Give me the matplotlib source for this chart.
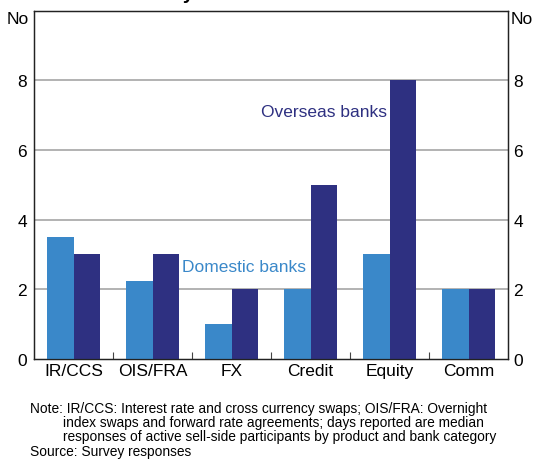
import matplotlib
matplotlib.use("Agg")
import matplotlib.pyplot as plt
import numpy as np

plt.rcParams['font.family'] = ['Liberation Sans', 'DejaVu Sans']

categories = ["IR/CCS", "OIS/FRA", "FX", "Credit", "Equity", "Comm"]
domestic = [3.5, 2.25, 1, 2, 3, 2]
overseas = [3, 3, 2, 5, 8, 2]
yticks = [0, 2, 4, 6, 8]

c_dom = "#3A88C9"
c_ovs = "#2E3081"

fig = plt.figure(figsize=(5.34, 4.6), dpi=100)
L, R, T, B = 34, 508, 11.5, 360
ax = fig.add_axes([L/534, 1-B/460, (R-L)/534, (B-T)/460])

x = np.arange(len(categories))
w = 0.34
ax.bar(x - w/2, domestic, width=w, color=c_dom, zorder=3)
ax.bar(x + w/2, overseas, width=w, color=c_ovs, zorder=3)

ax.set_xlim(-0.5, len(categories) - 0.5)
ax.set_ylim(0, 10)
ax.set_yticks(yticks)
for y in yticks[1:]:
    ax.axhline(y, color="#A6A6A6", lw=1.2, zorder=1)

ax.set_xticks(x)
ax.set_xticklabels(categories, fontsize=12.5)
ax.tick_params(axis='x', length=0, pad=3)
ax.set_xticks(np.arange(0.5, len(categories) - 0.5, 1), minor=True)
ax.tick_params(axis='x', which='minor', direction='in', length=5, width=0.8, color='#444444')
ax.tick_params(axis='y', length=0, labelsize=12.5, pad=5)

ax2 = ax.twinx()
ax2.set_ylim(0, 10)
ax2.set_yticks(yticks)
ax2.tick_params(axis='y', length=0, labelsize=12.5, pad=4)

for a in (ax, ax2):
    for s in a.spines.values():
        s.set_color("#222222")
        s.set_linewidth(0.9)

fig.text(7/534, 1-20/460, "No", fontsize=12.5, va='center', ha='left')
fig.text(511/534, 1-20/460, "No", fontsize=12.5, va='center', ha='left')

ax.text(3.97, 7.1, "Overseas banks", color=c_ovs, fontsize=12.5, ha='right', va='center')
ax.text(2.16, 2.64, "Domestic banks", color=c_dom, fontsize=12.5, ha='center', va='center')

fig.text(0.5, 1 + 1.0/460, "Days to Confirm Trades", fontsize=14, fontweight='bold',
         ha='center', va='baseline')

fs = 9.9
fig.text(30/534, 1-409/460, "Note: IR/CCS: Interest rate and cross currency swaps; OIS/FRA: Overnight",
         fontsize=fs, va='center', ha='left')
fig.text(63/534, 1-423/460, "index swaps and forward rate agreements; days reported are median",
         fontsize=fs, va='center', ha='left')
fig.text(63/534, 1-437/460, "responses of active sell-side participants by product and bank category",
         fontsize=fs, va='center', ha='left')
fig.text(30/534, 1-452/460, "Source: Survey responses", fontsize=fs, va='center', ha='left')

fig.savefig("out.png", dpi=100)
